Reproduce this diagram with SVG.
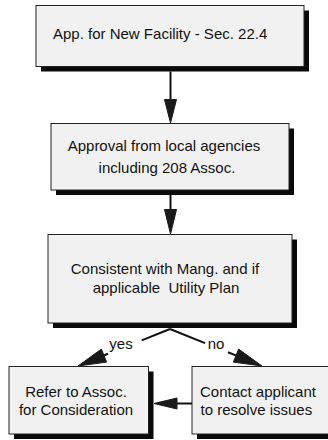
<svg xmlns="http://www.w3.org/2000/svg" width="328" height="440" viewBox="0 0 328 440">
<style>
.box{fill:#f1f1f1;stroke:#222;stroke-width:1}
.sh{fill:#0a0a0a}
.t{font-family:"Liberation Sans",Arial,sans-serif;font-size:15px;fill:#111;white-space:pre}
.m{text-anchor:middle}
.ln{stroke:#111;stroke-width:2;fill:none}
.ah{fill:#1a1a1a;stroke:#1a1a1a;stroke-width:1;stroke-linejoin:miter}
</style>
<rect width="328" height="440" fill="#fff"/>
<g id="n1">
<rect class="sh" x="41" y="10.5" width="268" height="61"/>
<rect class="box" x="36" y="5.5" width="268" height="61"/>
<text class="t" x="53" y="39">App. for New Facility - Sec. 22.4</text>
</g>
<g id="n2">
<rect class="sh" x="56" y="128.5" width="238" height="66.5"/>
<rect class="box" x="51" y="123.5" width="238" height="66.5"/>
<text class="t m" x="164" y="151">Approval from local agencies</text>
<text class="t m" x="167" y="172.5">including 208 Assoc.</text>
</g>
<g id="n3">
<rect class="sh" x="53" y="239.5" width="244" height="88.5"/>
<rect class="box" x="48" y="234.5" width="244" height="88.5"/>
<text class="t m" x="165" y="273.5">Consistent with Mang. and if</text>
<text class="t m" x="166" y="292.5">applicable  Utility Plan</text>
</g>
<g id="n4">
<rect class="sh" x="14" y="371.5" width="139.5" height="67.5"/>
<rect class="box" x="9" y="366.5" width="139.5" height="67.5"/>
<text class="t m" x="76" y="397">Refer to Assoc.</text>
<text class="t m" x="76" y="415">for Consideration</text>
</g>
<g id="n5">
<rect class="sh" x="197" y="371.5" width="140" height="67.5"/>
<rect class="box" x="192" y="366.5" width="140" height="67.5"/>
<text class="t" x="200" y="397">Contact applicant</text>
<text class="t" x="200.5" y="415">to resolve issues</text>
</g>
<g id="connectors">
<line class="ln" x1="170.5" y1="71.5" x2="170.5" y2="100"/>
<polygon class="ah" points="164.5,99.5 176.5,99.5 170.5,123"/>
<line class="ln" x1="170.5" y1="195" x2="170.5" y2="210"/>
<polygon class="ah" points="164.5,209.5 176.5,209.5 170.5,234"/>
<line class="ln" x1="170" y1="329" x2="141.7" y2="340.4"/>
<line class="ln" x1="108" y1="353.8" x2="103" y2="355.8"/>
<polygon class="ah" points="78,366 106.6,362.1 101.4,349.1"/>
<text class="t m" x="121" y="349">yes</text>
<line class="ln" x1="170" y1="329" x2="205" y2="343.1"/>
<line class="ln" x1="228" y1="352.3" x2="237" y2="355.9"/>
<polygon class="ah" points="262,366 233.4,362.1 238.6,349.1"/>
<text class="t m" x="216" y="349">no</text>
<line class="ln" x1="192" y1="403.5" x2="176" y2="403.5"/>
<polygon class="ah" points="177,398 177,409 154,403.5"/>
</g>
</svg>
